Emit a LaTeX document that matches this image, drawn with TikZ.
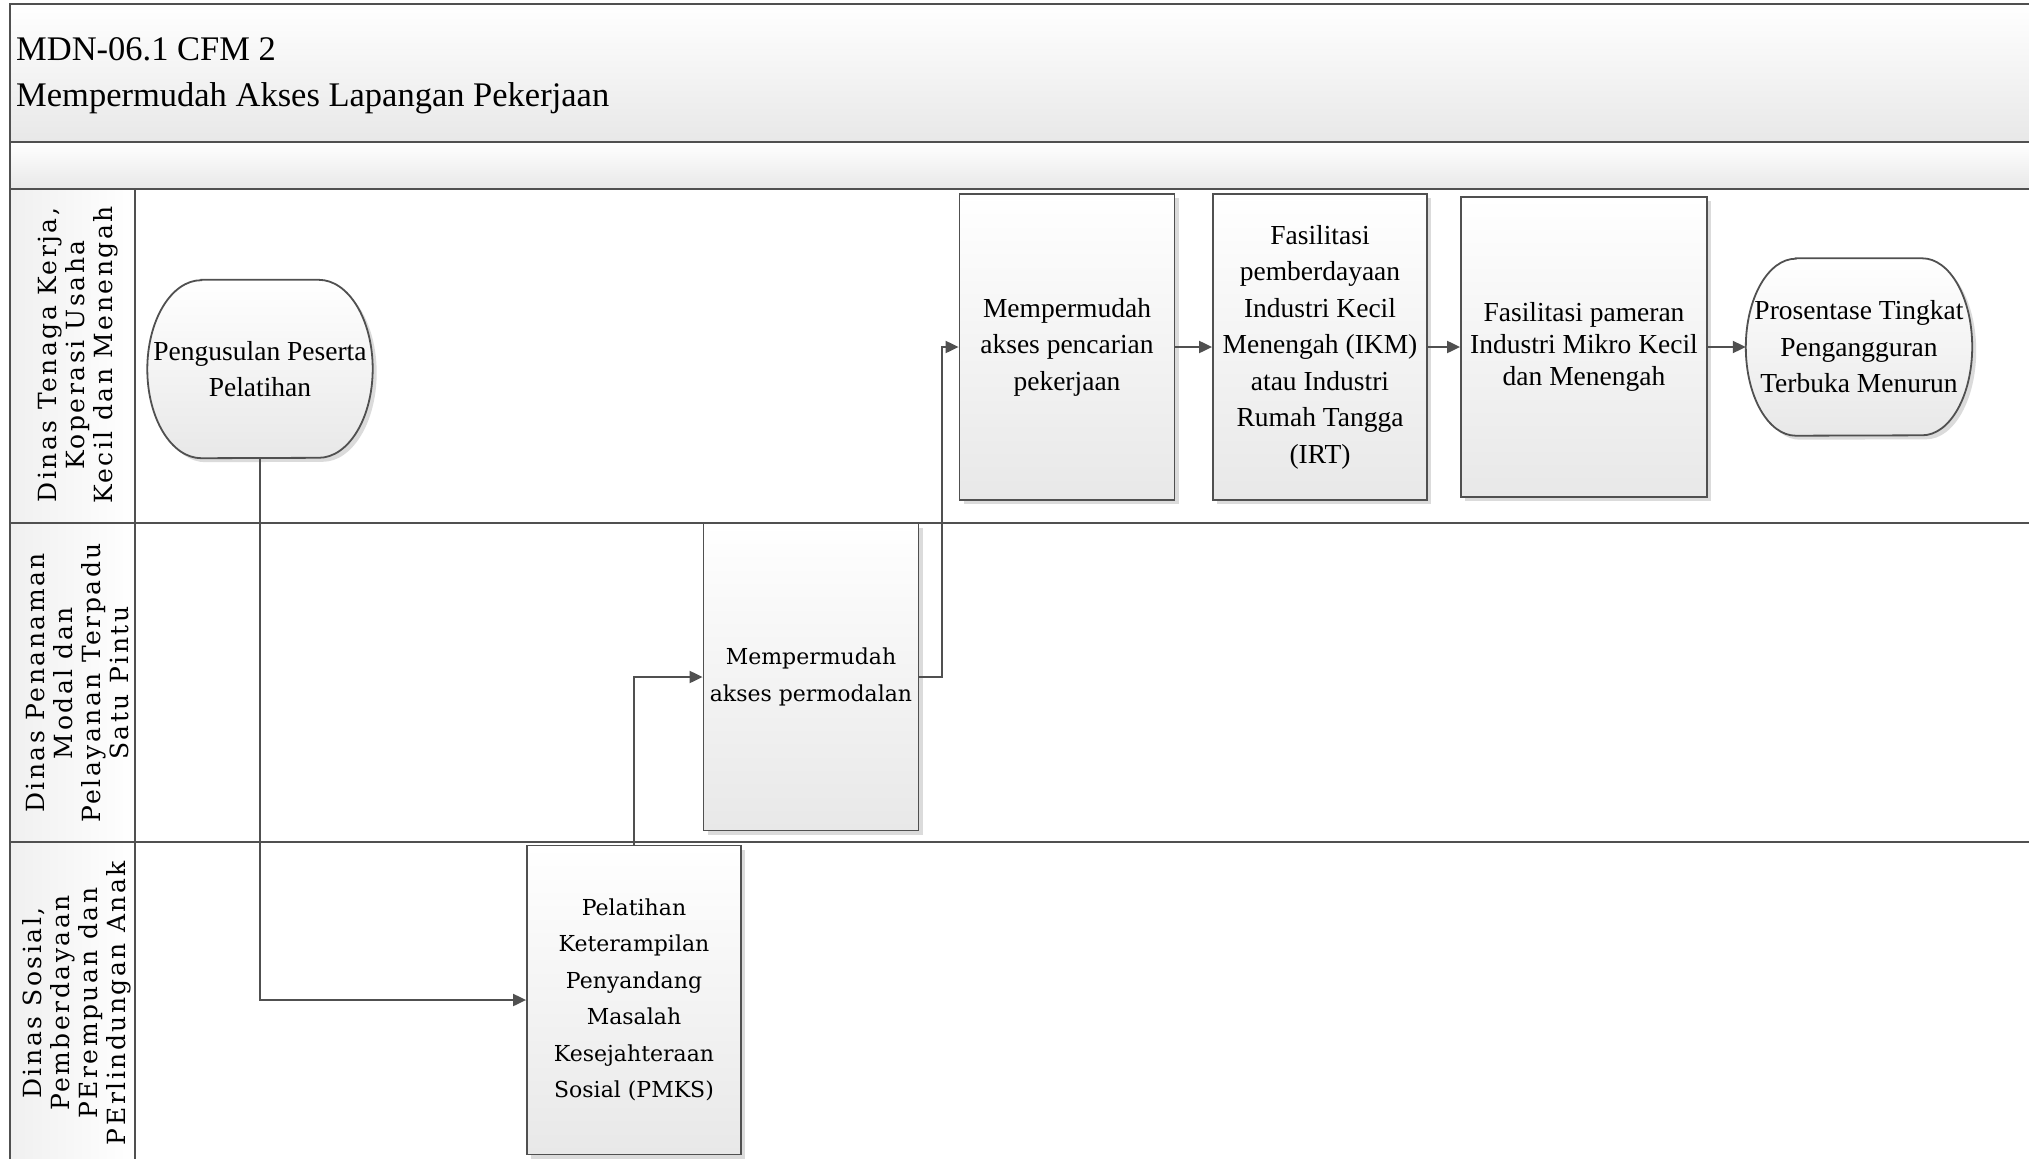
\documentclass[tikz,border=0pt]{standalone}
\usepackage{fontspec}
\setmainfont{Liberation Serif}
\newfontfamily\lanefont[LetterSpace=10]{DejaVu Serif}
\newfontfamily\widefont{DejaVu Serif}
\usetikzlibrary{arrows.meta,shadows,backgrounds}

\definecolor{linegray}{RGB}{80,80,80}
\definecolor{boxbottom}{RGB}{232,232,232}

\tikzset{
  lane/.style={draw=linegray, line width=2.2pt},
  headcell/.style={lane, left color=black!6, right color=white},
  band/.style={lane, top color=white, bottom color=boxbottom},
  proc/.style={draw=linegray, line width=1.8pt, top color=white, bottom color=boxbottom,
    drop shadow={shadow xshift=4pt, shadow yshift=-4pt, fill=black!14, opacity=1},
    align=center, inner sep=2pt, font=\fontsize{27.5}{36.5}\selectfont},
  wideproc/.style={proc, font=\widefont\fontsize{22}{36.5}\selectfont},
  termtext/.style={align=center, inner sep=0pt, font=\fontsize{27.5}{36.5}\selectfont},
  termshape/.style={draw=linegray, line width=1.8pt, top color=white, bottom color=boxbottom,
    drop shadow={shadow xshift=4pt, shadow yshift=-4pt, fill=black!14, opacity=1}},
  lanelabel/.style={rotate=90, align=center, inner sep=0pt, font=\lanefont\fontsize{25}{28}\selectfont},
  flow/.style={draw=linegray, line width=2pt, -{Triangle[length=13pt,width=12pt]}},
}

\begin{document}
\begin{tikzpicture}[x=1pt, y=-1pt]
\useasboundingbox (0,0) rectangle (2029,1159);
\clip (0,0) rectangle (2029,1159);

% title band and swimlanes
\path[band] (10,4) rectangle (2050,142);
\path[band] (10,142) rectangle (2050,189);
\draw[lane] (10,189) rectangle (2050,523);
\draw[lane] (10,523) rectangle (2050,842);
\draw[lane] (10,842) rectangle (2050,1190);
\path[headcell] (10,189) rectangle (135,523);
\path[headcell] (10,523) rectangle (135,842);
\path[headcell] (10,842) rectangle (135,1190);

\node[anchor=west, align=left, inner sep=0pt, font=\fontsize{34.5}{46}\selectfont] (title) at (16,76)
  {MDN-06.1 CFM 2\\Mempermudah Akses Lapangan Pekerjaan};

\node[lanelabel] (lane1) at (78,355) {Dinas Tenaga Kerja,\\Koperasi Usaha\\Kecil dan Menengah};
\node[lanelabel] (lane2) at (77,683) {Dinas Penanaman\\Modal dan\\Pelayanan Terpadu\\Satu Pintu};
\node[lanelabel] (lane3) at (77,1003) {Dinas Sosial,\\Pemberdayaan\\PErempuan dan\\PErlindungan Anak};

% process steps
\node[termtext, minimum width=225pt, minimum height=178pt] (usul) at (260,369) {Pengusulan Peserta\\Pelatihan};
\node[wideproc, minimum width=214pt, minimum height=309pt] (latih) at (634,1000)
  {Pelatihan\\Keterampilan\\Penyandang\\Masalah\\Kesejahteraan\\Sosial (PMKS)};
\node[wideproc, minimum width=215pt, minimum height=307pt] (modal) at (811,677) {Mempermudah\\akses permodalan};
\node[proc, minimum width=215pt, minimum height=306pt] (kerja) at (1067,347) {Mempermudah\\akses pencarian\\pekerjaan};
\node[proc, minimum width=214pt, minimum height=306pt] (ikm) at (1320,347)
  {Fasilitasi\\pemberdayaan\\Industri Kecil\\Menengah (IKM)\\atau Industri\\Rumah Tangga\\(IRT)};
\node[proc, minimum width=246pt, minimum height=300pt, font=\fontsize{27.5}{32}\selectfont] (pameran) at (1584,347)
  {Fasilitasi pameran\\Industri Mikro Kecil\\dan Menengah};
\node[termtext, minimum width=226pt, minimum height=177pt] (hasil) at (1859,347)
  {Prosentase Tingkat\\Pengangguran\\Terbuka Menurun};

% terminator outlines
\begin{scope}[on background layer]
\path[termshape] ([xshift=54pt]usul.north west) -- ([xshift=-54pt]usul.north east)
  arc[start angle=90, end angle=-90, x radius=54pt, y radius=89pt]
  -- ([xshift=54pt]usul.south west)
  arc[start angle=270, end angle=90, x radius=54pt, y radius=89pt] -- cycle;
\path[termshape] ([xshift=50pt]hasil.north west) -- ([xshift=-50pt]hasil.north east)
  arc[start angle=90, end angle=-90, x radius=50pt, y radius=88.5pt]
  -- ([xshift=50pt]hasil.south west)
  arc[start angle=270, end angle=90, x radius=50pt, y radius=88.5pt] -- cycle;
\end{scope}

% connectors
\draw[flow] (usul.south) |- (latih.west);
\draw[flow] (latih.north) |- (modal.west);
\draw[flow] (modal.east) -- ++(23,0) |- (kerja.west);
\draw[flow] (kerja.east) -- (ikm.west);
\draw[flow] (ikm.east) -- (pameran.west);
\draw[flow] (pameran.east) -- (hasil.west);

\end{tikzpicture}
\end{document}
